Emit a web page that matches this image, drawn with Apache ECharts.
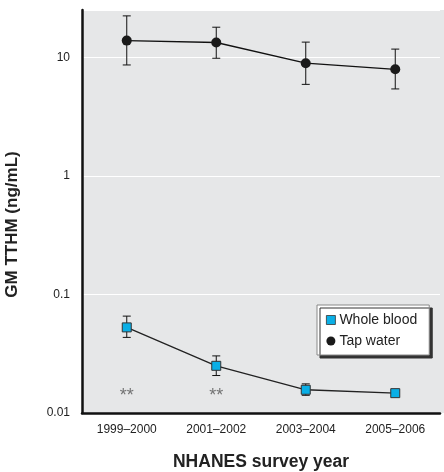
<!DOCTYPE html>
<html lang="en">
<head>
    <meta charset="UTF-8">
    <title>GM TTHM</title>
    <style>
        html, body { margin: 0; padding: 0; background: #fff; }
        #main { width: 444px; height: 472px; }
    </style>
</head>
<body>
<div id="main"></div>
<script src="https://cdn.jsdelivr.net/npm/echarts@6/dist/echarts.min.js"></script>
<script>
    // survey cycles
    var years = ['1999\u20132000', '2001\u20132002', '2003\u20132004', '2005\u20132006'];

    // tap water GM (ng/mL) with error bar ends
    var tapWater = [13.8, 13.3, 8.9, 7.9];
    var tapLow = [8.6, 9.8, 5.9, 5.4];
    var tapHigh = [22.3, 17.9, 13.4, 11.7];

    // whole blood GM (ng/mL) with error bar ends
    var wholeBlood = [0.0527, 0.0250, 0.0157, 0.0147];
    var bloodLow = [0.0434, 0.0207, 0.0141, 0.0140];
    var bloodHigh = [0.0656, 0.0303, 0.0176, 0.0155];

    // "**" marks under the first two cycles
    var starYears = [0, 1];
    var starLevel = 0.0153;

    var font = '"Liberation Sans", Arial, sans-serif';

    function errData(low, high) {
        var out = [];
        for (var i = 0; i < low.length; i++) {
            out.push([i, low[i], high[i]]);
        }
        return out;
    }

    function errBars(params, api) {
        var x = api.value(0);
        var lo = api.coord([x, api.value(1)]);
        var hi = api.coord([x, api.value(2)]);
        var cap = 4;
        var st = { stroke: '#111', lineWidth: 1 };
        return {
            type: 'group',
            children: [
                { type: 'line', shape: { x1: lo[0], y1: lo[1], x2: hi[0], y2: hi[1] }, style: st },
                { type: 'line', shape: { x1: lo[0] - cap, y1: lo[1], x2: lo[0] + cap, y2: lo[1] }, style: st },
                { type: 'line', shape: { x1: hi[0] - cap, y1: hi[1], x2: hi[0] + cap, y2: hi[1] }, style: st }
            ]
        };
    }

    var stars = [];
    for (var s = 0; s < starYears.length; s++) {
        stars.push([starYears[s], starLevel]);
    }

    var app = echarts.init(document.getElementById('main'));

    var option = {
        animation: false,
        textStyle: { fontFamily: font },
        grid: {
            left: 82,
            right: 4,
            top: 10,
            bottom: 59,
            containLabel: false,
            outerBoundsMode: 'none',
            show: true,
            backgroundColor: '#e6e7e8',
            borderWidth: 0
        },
        graphic: [{
            type: 'rect',
            right: 0,
            top: 10,
            shape: { width: 4, height: 403 },
            style: { fill: '#e6e7e8' },
            z: -1
        }],
        legend: {
            orient: 'vertical',
            left: 317,
            top: 305,
            padding: [8, 12, 7, 9],
            itemGap: 7,
            itemWidth: 9,
            itemHeight: 9,
            backgroundColor: '#fff',
            borderColor: '#888',
            borderWidth: 1,
            borderRadius: 0,
            shadowColor: '#333',
            shadowBlur: 0,
            shadowOffsetX: 3,
            shadowOffsetY: 3,
            textStyle: { fontSize: 14, color: '#222', fontFamily: font, padding: [0, 0, 0, -1] },
            data: [
                { name: 'Whole blood', icon: 'rect', itemStyle: { borderWidth: 0.8 } },
                { name: 'Tap water', icon: 'circle' }
            ]
        },
        xAxis: {
            type: 'category',
            data: years,
            boundaryGap: true,
            name: 'NHANES survey year',
            nameLocation: 'middle',
            nameGap: 40,
            nameTextStyle: { fontSize: 17.5, fontWeight: 'bold', color: '#222', fontFamily: font },
            axisLine: { lineStyle: { color: '#111', width: 2.5 } },
            axisTick: { show: false },
            axisLabel: { fontSize: 12, color: '#222', margin: 11 },
            splitLine: { show: false }
        },
        yAxis: {
            type: 'log',
            logBase: 10,
            min: 0.01,
            max: 25,
            name: 'GM TTHM (ng/mL)',
            nameLocation: 'middle',
            nameGap: 61,
            nameTextStyle: {
                fontSize: 17,
                fontWeight: 'bold',
                color: '#222',
                fontFamily: font,
                padding: [0, 26, 0, 0]
            },
            axisLine: { show: true, lineStyle: { color: '#111', width: 2.5 } },
            axisTick: { show: false },
            axisLabel: {
                fontSize: 12,
                color: '#222',
                margin: 12,
                formatter: function (v) {
                    var l = Math.log(v) / Math.LN10;
                    if (Math.abs(l - Math.round(l)) > 1e-6) return '';
                    return String(Math.round(v * 1000) / 1000);
                }
            },
            splitLine: { show: true, lineStyle: { color: '#fff', width: 1 } }
        },
        series: [
            {
                name: 'tapErr',
                type: 'custom',
                renderItem: errBars,
                data: errData(tapLow, tapHigh),
                encode: { x: 0, y: [1, 2] },
                z: 1
            },
            {
                name: 'bloodErr',
                type: 'custom',
                renderItem: errBars,
                data: errData(bloodLow, bloodHigh),
                encode: { x: 0, y: [1, 2] },
                z: 1
            },
            {
                name: 'Whole blood',
                type: 'line',
                data: wholeBlood,
                symbol: 'rect',
                symbolSize: 9,
                showAllSymbol: true,
                lineStyle: { color: '#222', width: 1.3 },
                itemStyle: { color: '#0aafe6', borderColor: '#333', borderWidth: 1 },
                z: 3
            },
            {
                name: 'Tap water',
                type: 'line',
                data: tapWater,
                symbol: 'circle',
                symbolSize: 10,
                showAllSymbol: true,
                lineStyle: { color: '#111', width: 1.3 },
                itemStyle: { color: '#1a1a1a', borderWidth: 0 },
                z: 3
            },
            {
                name: 'stars',
                type: 'scatter',
                data: stars,
                symbolSize: 1,
                itemStyle: { color: 'rgba(0,0,0,0)' },
                label: {
                    show: true,
                    position: 'inside',
                    formatter: '**',
                    color: '#555',
                    fontSize: 18,
                    offset: [0, 5],
                    fontFamily: font
                },
                z: 2
            }
        ]
    };

    app.setOption(option);
</script>
</body>
</html>
